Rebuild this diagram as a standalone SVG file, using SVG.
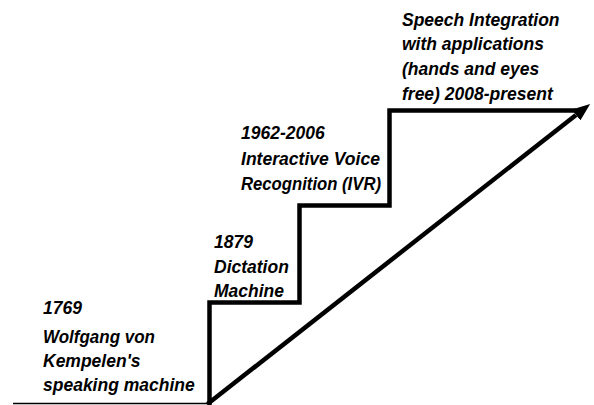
<svg xmlns="http://www.w3.org/2000/svg" width="594" height="405" viewBox="0 0 594 405">
  <style>
    .lbl { font-family: "Liberation Sans", Arial, sans-serif; font-weight: bold; font-style: italic; font-size: 17.5px; fill: #000; }
    .stair { fill: none; stroke: #000; stroke-width: 4.5; stroke-linejoin: miter; }
    .base { fill: none; stroke: #000; stroke-width: 1.6; }
    .diag { fill: none; stroke: #000; stroke-width: 4.5; }
  </style>
  <defs>
    <marker id="ah" viewBox="0 0 18 14" refX="0" refY="7" markerWidth="18" markerHeight="14" markerUnits="userSpaceOnUse" orient="auto">
      <path d="M0,0 L18,7 L0,14 z" fill="#000"/>
    </marker>
  </defs>
  <rect width="594" height="405" fill="#fff"/>
  <g id="connectors">
    <line class="base" x1="13" y1="403.5" x2="209" y2="403.5"/>
    <path class="stair" d="M209.5,405 V302.5 H299.5 V205.5 H389.5 V110.5 H576"/>
    <line class="diag" x1="207.5" y1="404" x2="576" y2="115" marker-end="url(#ah)"/>
  </g>
  <g id="node-1769">
    <text class="lbl" x="43" y="314">1769</text>
    <text class="lbl" x="43" y="343" textLength="112" lengthAdjust="spacingAndGlyphs">Wolfgang von</text>
    <text class="lbl" x="43" y="367">Kempelen's</text>
    <text class="lbl" x="43" y="391">speaking machine</text>
  </g>
  <g id="node-1879">
    <text class="lbl" x="214" y="248">1879</text>
    <text class="lbl" x="214" y="273">Dictation</text>
    <text class="lbl" x="214" y="297">Machine</text>
  </g>
  <g id="node-1962">
    <text class="lbl" x="241" y="139">1962-2006</text>
    <text class="lbl" x="241" y="165" textLength="139" lengthAdjust="spacingAndGlyphs">Interactive Voice</text>
    <text class="lbl" x="241" y="190" textLength="140" lengthAdjust="spacingAndGlyphs">Recognition (IVR)</text>
  </g>
  <g id="node-2008">
    <text class="lbl" x="402" y="26">Speech Integration</text>
    <text class="lbl" x="402" y="50">with applications</text>
    <text class="lbl" x="402" y="75">(hands and eyes</text>
    <text class="lbl" x="402" y="100">free) 2008-present</text>
  </g>
</svg>
